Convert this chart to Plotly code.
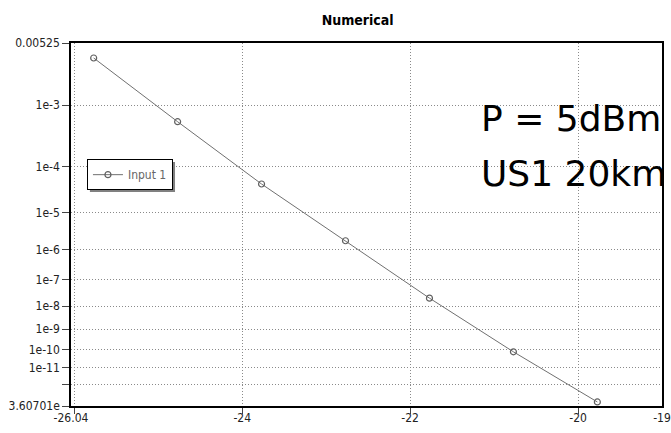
import numpy as np
import plotly.graph_objects as go

# Received power (dBm) and measured bit error rate
power = [-25.77, -24.77, -23.77, -22.77, -21.77, -20.77, -19.77]
ber = [3.7e-3, 5.8e-4, 4.5e-5, 1.8e-6, 2.1e-8, 7.5e-11, 6.9e-14]

# BER axis: end values and labelled decades
ber_top = 0.00525
ber_bottom = 3.60701e-14
ber_ticks = [1e-3, 1e-4, 1e-5, 1e-6, 1e-7, 1e-8, 1e-9, 1e-10, 1e-11, 1e-12]
ber_tick_text = ["1e-3", "1e-4", "1e-5", "1e-6", "1e-7", "1e-8", "1e-9",
                 "1e-10", "1e-11", ""]

x_ticks = [-26.04, -24, -22, -20, -19]
x_tick_text = ["-26.04", "-24", "-22", "-20", "-19"]
x_grid = [-26, -24, -22, -20]


def ber_scale(p):
    """Double-log BER scale used by the analyser display."""
    p = np.asarray(p, dtype=float)
    return -np.log(-np.log10(p) - 0.5)


ytick_vals = [float(ber_scale(ber_top))] + list(ber_scale(ber_ticks)) + [float(ber_scale(ber_bottom))]
ytick_text = ["0.00525"] + ber_tick_text + ["3.60701e"]

fig = go.Figure()
fig.add_trace(go.Scatter(
    x=power, y=ber_scale(ber), mode="lines+markers", name="Input 1",
    line=dict(color="#707070", width=1),
    marker=dict(symbol="circle-open", size=6, color="#606060", line=dict(width=1.2)),
))

narrow = "DejaVu Sans Condensed, Liberation Sans Narrow, Arial Narrow, sans-serif"
axis_font = dict(family=narrow, size=12, color="#222222")
grid_dash = "1px,2px"
note_font = dict(family="DejaVu Sans, sans-serif", size=36, color="#000000")

fig.update_layout(
    width=671, height=433,
    margin=dict(l=71, r=9, t=43, b=27),
    paper_bgcolor="white", plot_bgcolor="white",
    title=dict(text="<b>Numerical</b>", x=0.533, xanchor="center", y=0.953, yanchor="middle",
               font=dict(family=narrow, size=14, color="#000000")),
    showlegend=True,
    legend=dict(x=0.027, y=0.68, xanchor="left", yanchor="top",
                bgcolor="white", bordercolor="#000000", borderwidth=1,
                font=dict(family=narrow, size=12, color="#666666"),
                itemwidth=30, tracegroupgap=0),
    xaxis=dict(
        range=[-26.04, -19], tickmode="array", tickvals=x_ticks, ticktext=x_tick_text,
        showgrid=False, zeroline=False, showline=True, linecolor="#000000", linewidth=1.5,
        mirror=True, ticks="", tickfont=axis_font, automargin=False,
        minor=dict(tickmode="array", tickvals=x_grid, showgrid=True, gridcolor="#8a8a8a",
                   griddash=grid_dash, gridwidth=1, ticks="outside", ticklen=6, tickcolor="#444444"),
    ),
    yaxis=dict(
        range=[ytick_vals[-1], ytick_vals[0]], tickmode="array", tickvals=ytick_vals, ticktext=ytick_text,
        showgrid=True, gridcolor="#8a8a8a", griddash=grid_dash, gridwidth=1,
        zeroline=False, showline=True, linecolor="#000000", linewidth=1.5, mirror=True,
        ticks="outside", ticklen=7, tickcolor="#444444", tickfont=axis_font, automargin=False,
    ),
    annotations=[
        dict(xref="paper", yref="paper", x=0.69, y=0.792, xanchor="left", yanchor="middle",
             text="P = 5dBm", showarrow=False, font=note_font),
        dict(xref="paper", yref="paper", x=0.69, y=0.64, xanchor="left", yanchor="middle",
             text="US1 20km", showarrow=False, font=note_font),
    ],
    # drop shadow under the legend box
    shapes=[dict(
        type="rect", xref="paper", yref="paper", layer="above",
        x0=0.032, x1=0.176, y0=0.5895, y1=0.672,
        fillcolor="#808080", line=dict(width=0),
    )],
)

fig.write_html("out.html")
